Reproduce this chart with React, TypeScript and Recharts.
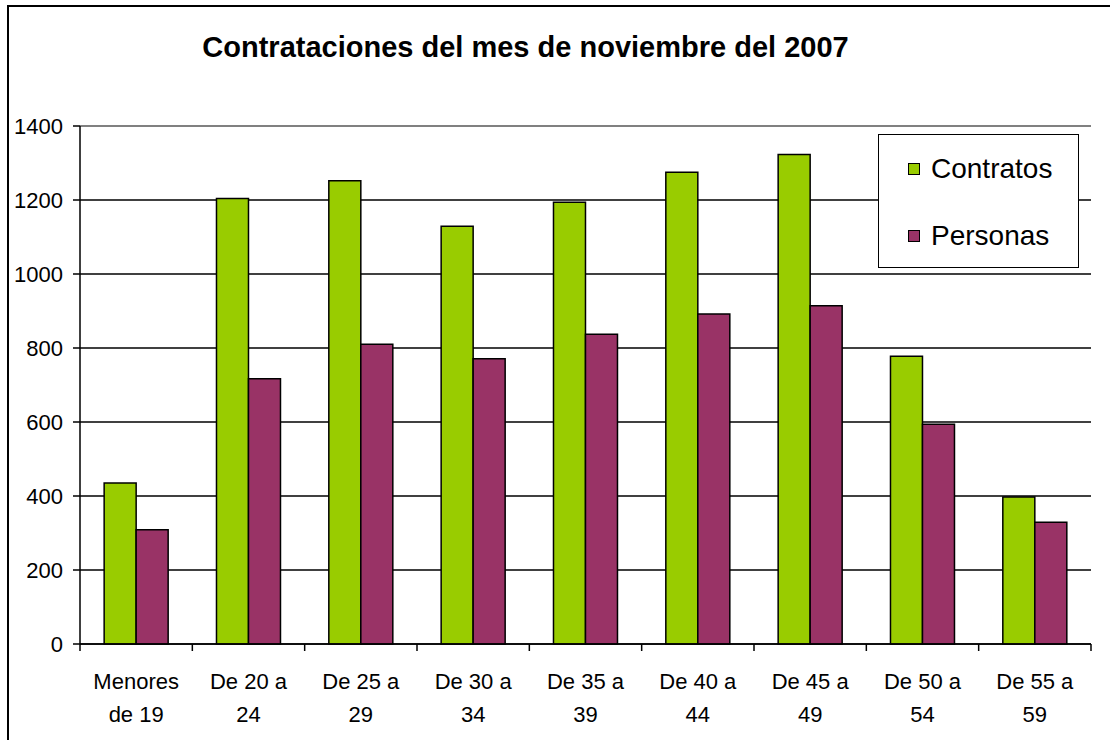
import React from "react";
import { BarChart, Bar, XAxis, YAxis, CartesianGrid, Legend, ReferenceLine } from "recharts";

const categories = [
  ["Menores", "de 19"],
  ["De 20 a", "24"],
  ["De 25 a", "29"],
  ["De 30 a", "34"],
  ["De 35 a", "39"],
  ["De 40 a", "44"],
  ["De 45 a", "49"],
  ["De 50 a", "54"],
  ["De 55 a", "59"],
];
const contratos = [435, 1204, 1252, 1129, 1194, 1275, 1323, 778, 397];
const personas = [309, 717, 810, 771, 837, 892, 914, 594, 329];
const yTicks = [0, 200, 400, 600, 800, 1000, 1200, 1400];
const seriesNames = ["Contratos", "Personas"];
const seriesColors = ["#99CC00", "#993366"];
const title = "Contrataciones del mes de noviembre del 2007";

const data = categories.map((c, i) => ({
  name: c.join("\n"),
  Contratos: contratos[i],
  Personas: personas[i],
}));

const FONT = "'Liberation Sans', Arial, Helvetica, sans-serif";

const XTick = (props: any) => {
  const { x, y, payload, index } = props;
  const lines = String(payload.value).split("\n");
  const half = payload.offset ?? 56;
  const last = index === categories.length - 1;
  return (
    <g>
      <line x1={x - half} x2={x - half} y1={y} y2={y + 7} stroke="#000" strokeWidth={1.5} />
      {last && <line x1={x + half} x2={x + half} y1={y} y2={y + 7} stroke="#000" strokeWidth={1.5} />}
      {lines.map((l, i) => (
        <text key={i} x={x} y={y + 45 + i * 33} textAnchor="middle" fontSize={22} fontFamily={FONT} fill="#000">
          {l}
        </text>
      ))}
    </g>
  );
};

const LegendContent = () => (
  <div
    style={{
      width: 201,
      height: 134,
      border: "1.5px solid #000",
      background: "#fff",
      boxSizing: "border-box",
      fontFamily: FONT,
      fontSize: 28,
      color: "#000",
      position: "relative",
    }}
  >
    {seriesNames.map((n, i) => (
      <div key={n} style={{ position: "absolute", left: 29, top: 18 + i * 67, display: "flex", alignItems: "center", lineHeight: "32px" }}>
        <div style={{ width: 10, height: 10, background: seriesColors[i], border: "1.5px solid #000", marginRight: 11 }} />
        <span>{n}</span>
      </div>
    ))}
  </div>
);

export default function App() {
  return (
    <div style={{ position: "absolute", left: 0, top: 0, width: 1110, height: 740, overflow: "hidden", background: "#fff" }}>
      <div
        style={{
          position: "absolute",
          left: 7,
          top: 5,
          width: 1200,
          height: 800,
          borderLeft: "2px solid #000",
          borderTop: "2px solid #000",
        }}
      />
      <div
        style={{
          position: "absolute",
          left: 0,
          width: 1051,
          top: 33,
          textAlign: "center",
          fontFamily: FONT,
          fontWeight: "bold",
          fontSize: 29,
          lineHeight: "29px",
          color: "#000",
        }}
      >
        {title}
      </div>
      <div style={{ position: "absolute", left: 0, top: 0 }}>
        <BarChart
          width={1110}
          height={740}
          data={data}
          margin={{ top: 126, right: 19, bottom: 0, left: 20 }}
          barCategoryGap="21.5%"
          barGap={0}
        >
          <CartesianGrid vertical={false} stroke="#000" strokeWidth={1.5} />
          <ReferenceLine y={1400} stroke="#808080" strokeWidth={2} />
          <XAxis
            dataKey="name"
            height={96}
            interval={0}
            tickLine={false}
            tickSize={0}
            tickMargin={0}
            tick={<XTick />}
            axisLine={{ stroke: "#000", strokeWidth: 1.5 }}
          />
          <YAxis
            width={60}
            domain={[0, 1400]}
            ticks={yTicks}
            interval={0}
            tickSize={7}
            tickMargin={10}
            tickLine={{ stroke: "#000", strokeWidth: 1.5 }}
            axisLine={{ stroke: "#000", strokeWidth: 1.5 }}
            tick={{ fontSize: 22, fontFamily: FONT, fill: "#000" }}
          />
          <YAxis
            yAxisId="r"
            orientation="right"
            width={0}
            domain={[0, 1400]}
            tick={false}
            tickLine={false}
            axisLine={{ stroke: "#808080", strokeWidth: 2 }}
          />
          <Legend
            content={<LegendContent />}
            wrapperStyle={{ position: "absolute", left: 878, top: 134, width: 0, height: 0, overflow: "visible" }}
          />
          <Bar dataKey="Contratos" fill={seriesColors[0]} stroke="#000" strokeWidth={1.5} isAnimationActive={false} />
          <Bar dataKey="Personas" fill={seriesColors[1]} stroke="#000" strokeWidth={1.5} isAnimationActive={false} />
        </BarChart>
      </div>
    </div>
  );
}
